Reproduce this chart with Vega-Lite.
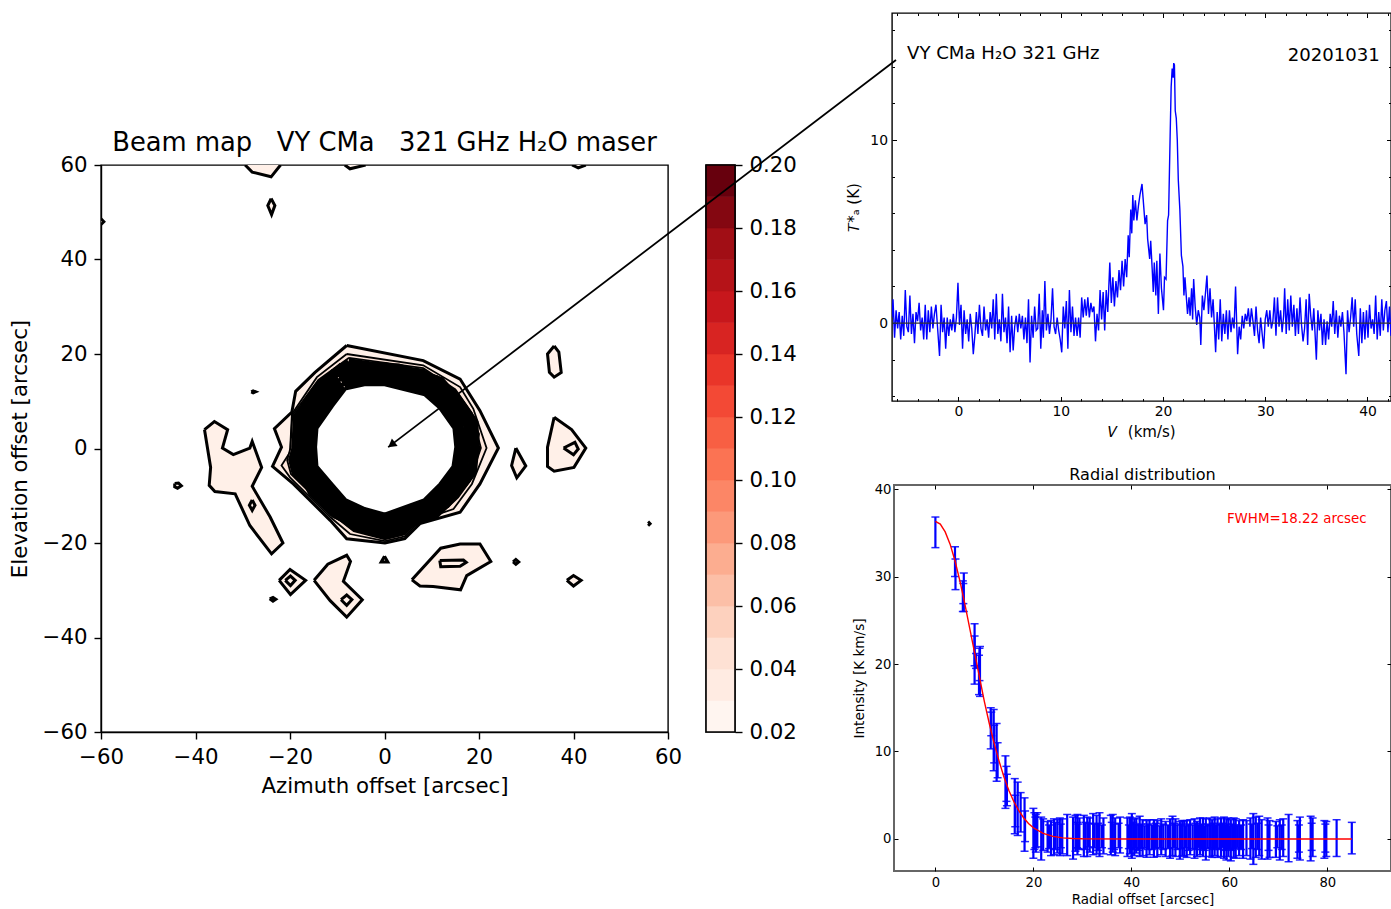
{
"$schema":"https://vega.github.io/schema/vega-lite/v6.json",
"padding":{"left":8,"top":11,"right":0,"bottom":0},
"background":"white",
"config":{"font":"DejaVu Sans","view":{"stroke":"black","strokeWidth":1.4},"axis":{"grid":false,"labelFont":"DejaVu Sans","titleFont":"DejaVu Sans","titleFontWeight":"normal","labelColor":"black","titleColor":"black","tickColor":"black","domainColor":"black"}},
"datasets":{
"blobs":[
{"c":"a","az":-38.1,"el":4},{"c":"a","az":-36,"el":5.7},{"c":"a","az":-33.2,"el":4},{"c":"a","az":-34.3,"el":0.1},{"c":"a","az":-32,"el":-1.3},{"c":"a","az":-28.5,"el":0.1},{"c":"a","az":-28,"el":1.5},{"c":"a","az":-26,"el":-4},{"c":"a","az":-28,"el":-8},{"c":"a","az":-24.2,"el":-14.5},{"c":"a","az":-21.5,"el":-20},{"c":"a","az":-23.9,"el":-22.3},{"c":"a","az":-28.5,"el":-16.3},{"c":"a","az":-31.6,"el":-9.6},{"c":"a","az":-35.9,"el":-9.1},{"c":"a","az":-37.1,"el":-7.8},{"c":"a","az":-36.8,"el":-4},{"c":"a","az":-38.1,"el":4},
{"c":"b","az":-28,"el":-10.9},{"c":"b","az":-27.4,"el":-12},{"c":"b","az":-28,"el":-13.1},{"c":"b","az":-28.6,"el":-12},{"c":"b","az":-28,"el":-10.9},
{"c":"c","az":-44.4,"el":-7.4},{"c":"c","az":-43.6,"el":-7.3},{"c":"c","az":-43,"el":-7.9},{"c":"c","az":-43.8,"el":-8.4},{"c":"c","az":-44.4,"el":-8.1},{"c":"c","az":-44.4,"el":-7.4},
{"c":"d","az":-22.3,"el":-27.9},{"c":"d","az":-20,"el":-25.6},{"c":"d","az":-16.7,"el":-27.9},{"c":"d","az":-19.9,"el":-30.9},{"c":"d","az":-22.3,"el":-27.9},
{"c":"e","az":-21,"el":-27.9},{"c":"e","az":-19.9,"el":-27},{"c":"e","az":-18.9,"el":-27.9},{"c":"e","az":-19.9,"el":-29},{"c":"e","az":-21,"el":-27.9},
{"c":"f","az":-24.3,"el":-31.8},{"c":"f","az":-23.6,"el":-31.5},{"c":"f","az":-23,"el":-31.9},{"c":"f","az":-23.6,"el":-32.3},{"c":"f","az":-24.3,"el":-31.8},
{"c":"g","az":-14.9,"el":-27.9},{"c":"g","az":-12,"el":-24.5},{"c":"g","az":-8,"el":-22.6},{"c":"g","az":-7.2,"el":-23.9},{"c":"g","az":-8.7,"el":-28.1},{"c":"g","az":-4.7,"el":-32},{"c":"g","az":-8,"el":-35.7},{"c":"g","az":-11.5,"el":-32.2},{"c":"g","az":-14.9,"el":-27.9},
{"c":"h","az":-9.2,"el":-32},{"c":"h","az":-8,"el":-31},{"c":"h","az":-6.9,"el":-32},{"c":"h","az":-8,"el":-33.2},{"c":"h","az":-9.2,"el":-32},
{"c":"i","az":35.9,"el":21.7},{"c":"i","az":36.9,"el":20.4},{"c":"i","az":37.4,"el":16.1},{"c":"i","az":35.9,"el":15.1},{"c":"i","az":34.9,"el":16.1},{"c":"i","az":34.5,"el":20},{"c":"i","az":35.9,"el":21.7},
{"c":"j","az":35.9,"el":6.6},{"c":"j","az":39.6,"el":4},{"c":"j","az":42.6,"el":0.1},{"c":"j","az":40.1,"el":-4},{"c":"j","az":35.9,"el":-4.8},{"c":"j","az":34.5,"el":-3.8},{"c":"j","az":34.5,"el":0.3},{"c":"j","az":35.9,"el":6.6},
{"c":"k","az":37.9,"el":0.1},{"c":"k","az":40.3,"el":1.3},{"c":"k","az":41,"el":-0.1},{"c":"k","az":40,"el":-1.3},{"c":"k","az":37.9,"el":0.1},
{"c":"l","az":27.8,"el":0.1},{"c":"l","az":29.9,"el":-3.7},{"c":"l","az":28,"el":-6.2},{"c":"l","az":26.9,"el":-3.6},{"c":"l","az":27.8,"el":0.1},
{"c":"m","az":5.8,"el":-27.8},{"c":"m","az":11.9,"el":-21.1},{"c":"m","az":16,"el":-20.2},{"c":"m","az":20.2,"el":-20.2},{"c":"m","az":22.5,"el":-23.9},{"c":"m","az":17.4,"el":-26.9},{"c":"m","az":16.1,"el":-29.9},{"c":"m","az":10.3,"el":-29.2},{"c":"m","az":7.5,"el":-29.1},{"c":"m","az":5.8,"el":-27.8},
{"c":"n","az":11.7,"el":-23.7},{"c":"n","az":16.7,"el":-23.6},{"c":"n","az":17.3,"el":-24.1},{"c":"n","az":16,"el":-24.9},{"c":"n","az":11.9,"el":-25},{"c":"n","az":11.7,"el":-23.7},
{"c":"o","az":27.2,"el":-24},{"c":"o","az":27.8,"el":-23.5},{"c":"o","az":28.4,"el":-24},{"c":"o","az":27.8,"el":-24.5},{"c":"o","az":27.2,"el":-24},
{"c":"p","az":38.6,"el":-27.9},{"c":"p","az":40,"el":-26.9},{"c":"p","az":41.6,"el":-27.9},{"c":"p","az":40,"el":-29.1},{"c":"p","az":38.6,"el":-27.9},
{"c":"q","az":-29.5,"el":60},{"c":"q","az":-28,"el":58.5},{"c":"q","az":-24,"el":57.5},{"c":"q","az":-22,"el":60},
{"c":"r","az":-24,"el":52.9},{"c":"r","az":-23.2,"el":51.4},{"c":"r","az":-23.9,"el":49.5},{"c":"r","az":-24.7,"el":51.4},{"c":"r","az":-24,"el":52.9},
{"c":"s","az":-8.4,"el":60},{"c":"s","az":-7.3,"el":59.2},{"c":"s","az":-4,"el":60},
{"c":"t","az":39.7,"el":60},{"c":"t","az":41,"el":59.4},{"c":"t","az":42.6,"el":60},
{"c":"u","az":-60,"el":48.6},{"c":"u","az":-59.4,"el":48},{"c":"u","az":-60,"el":47.4},
{"c":"v","az":55.8,"el":-15.9},{"c":"v","az":56,"el":-15.7},{"c":"v","az":56.2,"el":-15.9},{"c":"v","az":56,"el":-16.1},{"c":"v","az":55.8,"el":-15.9},
{"c":"w","az":-28.2,"el":12},{"c":"w","az":-27.8,"el":12.2},{"c":"w","az":-27.3,"el":12},{"c":"w","az":-27.8,"el":11.8},{"c":"w","az":-28.2,"el":12},
{"c":"x","az":0,"el":-22.8},{"c":"x","az":0.7,"el":-24},{"c":"x","az":-0.7,"el":-24},{"c":"x","az":0,"el":-22.8}
],
"outer":[
{"az":-8,"el":21.8},{"az":8.2,"el":18.6},{"az":16,"el":14.7},{"az":20.2,"el":8},{"az":24.1,"el":0.1},{"az":20.2,"el":-7.5},{"az":16,"el":-13.5},{"az":7.5,"el":-15.9},{"az":4.3,"el":-19.1},{"az":0.1,"el":-20},{"az":-8,"el":-19.1},{"az":-11.5,"el":-15.2},{"az":-19.3,"el":-7.5},{"az":-23.7,"el":-3.8},{"az":-21.8,"el":0.3},{"az":-23.3,"el":4.2},{"az":-19.6,"el":7.7},{"az":-18.8,"el":12.1},{"az":-14.7,"el":16.1},{"az":-8,"el":21.8}
],
"mid":[
{"c":"a","az":-8,"el":20},{"c":"a","az":8.2,"el":17.6},{"c":"a","az":16,"el":13},{"c":"a","az":18.8,"el":8.4},{"c":"a","az":21.6,"el":0.1},{"c":"a","az":18.5,"el":-7.5},{"c":"a","az":14.6,"el":-12.8},{"c":"a","az":7.5,"el":-15.2},{"c":"a","az":4.3,"el":-18.6},{"c":"a","az":0.1,"el":-19.6},{"c":"a","az":-7.3,"el":-18.1},{"c":"a","az":-11.5,"el":-14.5},{"c":"a","az":-20,"el":-6.1},{"c":"a","az":-21.8,"el":-3.6},{"c":"a","az":-20,"el":-0.8},{"c":"a","az":-19.6,"el":7.3},{"c":"a","az":-14.3,"el":15.1},{"c":"a","az":-8,"el":20},
{"c":"b","az":-7.5,"el":19.2},{"c":"b","az":8.2,"el":17},{"c":"b","az":15,"el":12.5},{"c":"b","az":18.5,"el":7.5},{"c":"b","az":20.4,"el":0.1},{"c":"b","az":18,"el":-7},{"c":"b","az":13.5,"el":-12.4},{"c":"b","az":7.5,"el":-14.8},{"c":"b","az":4.3,"el":-18.2},{"c":"b","az":0.1,"el":-19.2},{"c":"b","az":-6.5,"el":-17.5},{"c":"b","az":-11,"el":-14},{"c":"b","az":-19.8,"el":-5.4},{"c":"b","az":-20.6,"el":-2.5},{"c":"b","az":-19.9,"el":0.1},{"c":"b","az":-19.5,"el":7},{"c":"b","az":-14,"el":14.5},{"c":"b","az":-7.5,"el":19.2}
],
"band":[
{"c":"e","az":-7.6,"el":18.4},{"c":"e","az":8,"el":16.2},{"c":"e","az":14.5,"el":12},{"c":"e","az":17.8,"el":7.2},{"c":"e","az":19.6,"el":0.1},{"c":"e","az":17.4,"el":-6.7},{"c":"e","az":13,"el":-11.9},{"c":"e","az":7.3,"el":-14.2},{"c":"e","az":4.1,"el":-17.5},{"c":"e","az":0.1,"el":-18.5},{"c":"e","az":-6.3,"el":-16.9},{"c":"e","az":-10.7,"el":-13.5},{"c":"e","az":-19,"el":-5.2},{"c":"e","az":-19.7,"el":-2.4},{"c":"e","az":-19,"el":0.1},{"c":"e","az":-18.7,"el":6.8},{"c":"e","az":-13.5,"el":13.9},{"c":"e","az":-7.6,"el":18.4},
{"c":"f","az":-9,"el":17.6},{"c":"f","az":3,"el":17.3},{"c":"f","az":12,"el":14.5},{"c":"f","az":16.3,"el":9.5},{"c":"f","az":19.5,"el":3},{"c":"f","az":18.5,"el":-5.5},{"c":"f","az":14.5,"el":-10.5},{"c":"f","az":9,"el":-13.8},{"c":"f","az":2,"el":-17.8},{"c":"f","az":-6,"el":-16.5},{"c":"f","az":-11,"el":-13.8},{"c":"f","az":-15.5,"el":-9.5},{"c":"f","az":-18.7,"el":-3},{"c":"f","az":-18.8,"el":3},{"c":"f","az":-17,"el":9},{"c":"f","az":-14,"el":13.5},{"c":"f","az":-11.5,"el":15.5},{"c":"f","az":-9,"el":17.6},
{"c":"a","az":-10.6,"el":16.4},{"c":"a","az":-5.5,"el":17.6},{"c":"a","az":0.1,"el":17.6},{"c":"a","az":10.9,"el":14.9},{"c":"a","az":15.2,"el":11.2},{"c":"a","az":19.2,"el":5.6},{"c":"a","az":19.4,"el":0.4},{"c":"a","az":18.9,"el":-4.9},{"c":"a","az":15.2,"el":-10},{"c":"a","az":10.9,"el":-14.1},{"c":"a","az":0.1,"el":-18.1},{"c":"a","az":-5.5,"el":-16.5},{"c":"a","az":-10.6,"el":-14.1},{"c":"a","az":-14.4,"el":-10},{"c":"a","az":-18.6,"el":-4.9},{"c":"a","az":-19,"el":0.4},{"c":"a","az":-18.6,"el":5.6},{"c":"a","az":-14.4,"el":11.6},{"c":"a","az":-10.6,"el":16.4},
{"c":"b","az":-10.2,"el":15.7},{"c":"b","az":-5.2,"el":16.9},{"c":"b","az":0.1,"el":16.9},{"c":"b","az":10.5,"el":14.3},{"c":"b","az":14.6,"el":10.8},{"c":"b","az":18.4,"el":5.4},{"c":"b","az":18.8,"el":0.4},{"c":"b","az":18.2,"el":-4.7},{"c":"b","az":14.6,"el":-9.6},{"c":"b","az":10.5,"el":-13.6},{"c":"b","az":0.1,"el":-17.4},{"c":"b","az":-5.2,"el":-15.9},{"c":"b","az":-10.2,"el":-13.6},{"c":"b","az":-13.8,"el":-9.6},{"c":"b","az":-17.9,"el":-4.7},{"c":"b","az":-18.3,"el":0.4},{"c":"b","az":-17.9,"el":5.4},{"c":"b","az":-13.8,"el":11.1},{"c":"b","az":-10.2,"el":15.7},
{"c":"c","az":-9.6,"el":14.8},{"c":"c","az":-4.9,"el":15.8},{"c":"c","az":0.1,"el":15.8},{"c":"c","az":9.8,"el":13.4},{"c":"c","az":13.7,"el":10.1},{"c":"c","az":17.3,"el":5},{"c":"c","az":17.6,"el":0.4},{"c":"c","az":17,"el":-4.4},{"c":"c","az":13.7,"el":-9},{"c":"c","az":9.8,"el":-12.7},{"c":"c","az":0.1,"el":-16.3},{"c":"c","az":-4.9,"el":-14.9},{"c":"c","az":-9.6,"el":-12.7},{"c":"c","az":-13,"el":-9},{"c":"c","az":-16.8,"el":-4.4},{"c":"c","az":-17.2,"el":0.4},{"c":"c","az":-16.8,"el":5},{"c":"c","az":-13,"el":10.4},{"c":"c","az":-9.6,"el":14.8},
{"c":"d","az":-9,"el":13.8},{"c":"d","az":-4.6,"el":14.8},{"c":"d","az":0.1,"el":14.8},{"c":"d","az":9.2,"el":12.5},{"c":"d","az":12.8,"el":9.4},{"c":"d","az":16.1,"el":4.7},{"c":"d","az":16.5,"el":0.3},{"c":"d","az":15.9,"el":-4.1},{"c":"d","az":12.8,"el":-8.4},{"c":"d","az":9.2,"el":-11.9},{"c":"d","az":0.1,"el":-15.2},{"c":"d","az":-4.6,"el":-13.9},{"c":"d","az":-9,"el":-11.9},{"c":"d","az":-12.1,"el":-8.4},{"c":"d","az":-15.7,"el":-4.1},{"c":"d","az":-16,"el":0.3},{"c":"d","az":-15.7,"el":4.7},{"c":"d","az":-12.1,"el":9.7},{"c":"d","az":-9,"el":13.8}
],
"hole":[
{"az":-8.4,"el":12.9},{"az":-4.3,"el":13.8},{"az":0.1,"el":13.8},{"az":8.6,"el":11.7},{"az":11.9,"el":8.8},{"az":15,"el":4.4},{"az":15.4,"el":0.3},{"az":14.8,"el":-3.9},{"az":11.9,"el":-7.8},{"az":8.6,"el":-11.1},{"az":0.1,"el":-14.2},{"az":-4.3,"el":-13},{"az":-8.4,"el":-11.1},{"az":-11.3,"el":-7.8},{"az":-14.6,"el":-3.9},{"az":-14.9,"el":0.3},{"az":-14.6,"el":4.4},{"az":-11.3,"el":9.1},{"az":-8.4,"el":12.9}
],
"levels":[
{"lo":0.02,"hi":0.03,"m":0.025},{"lo":0.03,"hi":0.04,"m":0.035},{"lo":0.04,"hi":0.05,"m":0.045},{"lo":0.05,"hi":0.06,"m":0.055},{"lo":0.06,"hi":0.07,"m":0.065},{"lo":0.07,"hi":0.08,"m":0.075},{"lo":0.08,"hi":0.09,"m":0.085},{"lo":0.09,"hi":0.10,"m":0.095},{"lo":0.10,"hi":0.11,"m":0.105},{"lo":0.11,"hi":0.12,"m":0.115},{"lo":0.12,"hi":0.13,"m":0.125},{"lo":0.13,"hi":0.14,"m":0.135},{"lo":0.14,"hi":0.15,"m":0.145},{"lo":0.15,"hi":0.16,"m":0.155},{"lo":0.16,"hi":0.17,"m":0.165},{"lo":0.17,"hi":0.18,"m":0.175},{"lo":0.18,"hi":0.19,"m":0.185},{"lo":0.19,"hi":0.20,"m":0.195}
],
"spectrum":[
{"v":-6.5,"t":0.3},{"v":-6.4,"t":1.3},{"v":-6.25,"t":-0.8},{"v":-6.1,"t":0.7},{"v":-5.95,"t":-0.3},{"v":-5.8,"t":0.6},{"v":-5.65,"t":-0.9},{"v":-5.5,"t":0.4},{"v":-5.35,"t":-0.7},{"v":-5.2,"t":1.8},{"v":-5.05,"t":-0.2},{"v":-4.9,"t":-0.5},{"v":-4.75,"t":1.5},{"v":-4.6,"t":-0.6},{"v":-4.45,"t":0.5},{"v":-4.3,"t":-1.1},{"v":-4.15,"t":0.6},{"v":-4,"t":0.1},{"v":-3.85,"t":1.1},{"v":-3.7,"t":-0.4},{"v":-3.55,"t":0.3},{"v":-3.4,"t":-0.9},{"v":-3.25,"t":1},{"v":-3.1,"t":-0.9},{"v":-2.95,"t":0.7},{"v":-2.8,"t":-0.5},{"v":-2.65,"t":0.9},{"v":-2.5,"t":-0.3},{"v":-2.35,"t":0.5},{"v":-2.2,"t":1},{"v":-2.05,"t":-0.2},{"v":-1.85,"t":-1.8},{"v":-1.7,"t":1},{"v":-1.55,"t":-0.5},{"v":-1.4,"t":0.3},{"v":-1.25,"t":-1.4},{"v":-1.1,"t":0.3},{"v":-0.95,"t":-0.7},{"v":-0.8,"t":0.2},{"v":-0.65,"t":-0.4},{"v":-0.5,"t":0.5},{"v":-0.35,"t":-0.5},{"v":-0.2,"t":0.3},{"v":-0.05,"t":2.2},{"v":0.1,"t":-0.1},{"v":0.25,"t":1},{"v":0.4,"t":-1.4},{"v":0.55,"t":0.7},{"v":0.7,"t":-0.6},{"v":0.85,"t":0.2},{"v":1,"t":-1},{"v":1.15,"t":0.5},{"v":1.3,"t":-0.3},{"v":1.45,"t":-1.7},{"v":1.6,"t":-0.7},{"v":1.75,"t":0.6},{"v":1.9,"t":-0.6},{"v":2.05,"t":1},{"v":2.2,"t":-0.3},{"v":2.35,"t":-0.7},{"v":2.5,"t":0.9},{"v":2.65,"t":-0.4},{"v":2.8,"t":0.2},{"v":2.95,"t":-0.8},{"v":3.1,"t":0.6},{"v":3.25,"t":-0.3},{"v":3.4,"t":1.3},{"v":3.55,"t":-0.9},{"v":3.7,"t":1.6},{"v":3.85,"t":-0.6},{"v":4,"t":0.2},{"v":4.15,"t":-1},{"v":4.3,"t":1.6},{"v":4.45,"t":-0.5},{"v":4.6,"t":0.3},{"v":4.75,"t":-1.1},{"v":4.9,"t":0.9},{"v":5.05,"t":-1.6},{"v":5.2,"t":0.4},{"v":5.35,"t":-1.5},{"v":5.5,"t":-0.2},{"v":5.65,"t":0.4},{"v":5.8,"t":-0.5},{"v":5.95,"t":0.5},{"v":6.1,"t":-0.3},{"v":6.25,"t":0.4},{"v":6.4,"t":-0.9},{"v":6.55,"t":0.3},{"v":6.7,"t":-1.1},{"v":6.85,"t":1.3},{"v":7,"t":-2.15},{"v":7.15,"t":0.4},{"v":7.3,"t":-0.8},{"v":7.45,"t":0.9},{"v":7.6,"t":-0.4},{"v":7.75,"t":-0.3},{"v":7.9,"t":1.6},{"v":8.05,"t":-1.4},{"v":8.2,"t":0.7},{"v":8.3,"t":-0.8},{"v":8.45,"t":2.3},{"v":8.6,"t":-0.4},{"v":8.75,"t":0.5},{"v":8.9,"t":-0.6},{"v":9.05,"t":0.2},{"v":9.2,"t":1.9},{"v":9.35,"t":-0.2},{"v":9.5,"t":-0.6},{"v":9.65,"t":0.3},{"v":9.8,"t":-0.4},{"v":9.95,"t":-0.9},{"v":10.1,"t":-1.6},{"v":10.25,"t":0.9},{"v":10.4,"t":-0.3},{"v":10.55,"t":1.2},{"v":10.7,"t":-1.4},{"v":10.85,"t":1.8},{"v":11,"t":-0.5},{"v":11.15,"t":0.9},{"v":11.3,"t":-0.7},{"v":11.45,"t":0.3},{"v":11.6,"t":-0.7},{"v":11.75,"t":0.3},{"v":11.9,"t":-0.8},{"v":12.05,"t":1.4},{"v":12.2,"t":0.3},{"v":12.35,"t":1.3},{"v":12.5,"t":0.4},{"v":12.65,"t":1.4},{"v":12.8,"t":0.3},{"v":12.95,"t":1.1},{"v":13.1,"t":0.6},{"v":13.25,"t":0.9},{"v":13.4,"t":-1},{"v":13.55,"t":0.5},{"v":13.7,"t":-0.4},{"v":13.85,"t":1.8},{"v":14,"t":0.2},{"v":14.15,"t":1.7},{"v":14.3,"t":-0.4},{"v":14.45,"t":1.8},{"v":14.6,"t":0.6},{"v":14.8,"t":3.3},{"v":14.95,"t":1.1},{"v":15.1,"t":2.5},{"v":15.25,"t":0.9},{"v":15.4,"t":2.3},{"v":15.55,"t":1.4},{"v":15.7,"t":2.9},{"v":15.85,"t":1.8},{"v":16,"t":3.4},{"v":16.15,"t":2},{"v":16.3,"t":3.5},{"v":16.45,"t":2.5},{"v":16.6,"t":4.8},{"v":16.7,"t":3.6},{"v":16.85,"t":6.2},{"v":16.95,"t":4.9},{"v":17.05,"t":7},{"v":17.15,"t":5.6},{"v":17.3,"t":6.7},{"v":17.45,"t":5.6},{"v":17.6,"t":6.4},{"v":17.75,"t":7},{"v":17.95,"t":7.6},{"v":18.1,"t":6.5},{"v":18.25,"t":5.4},{"v":18.4,"t":5.9},{"v":18.5,"t":4.6},{"v":18.7,"t":3.5},{"v":18.8,"t":4.5},{"v":18.95,"t":2.9},{"v":19.05,"t":1.7},{"v":19.15,"t":3.3},{"v":19.3,"t":1.5},{"v":19.4,"t":3.4},{"v":19.55,"t":0.5},{"v":19.7,"t":3.8},{"v":19.85,"t":1.9},{"v":20.05,"t":0.7},{"v":20.15,"t":2.5},{"v":20.3,"t":2.4},{"v":20.45,"t":5.6},{"v":20.55,"t":5.9},{"v":20.7,"t":10.2},{"v":20.8,"t":12.9},{"v":20.9,"t":13.9},{"v":21,"t":13.4},{"v":21.05,"t":14.2},{"v":21.12,"t":14.1},{"v":21.2,"t":11.6},{"v":21.3,"t":11.2},{"v":21.4,"t":10},{"v":21.5,"t":7.8},{"v":21.65,"t":6.2},{"v":21.8,"t":3.7},{"v":21.95,"t":3.1},{"v":22.05,"t":1.5},{"v":22.15,"t":2.5},{"v":22.3,"t":1.3},{"v":22.4,"t":0.5},{"v":22.55,"t":1.4},{"v":22.65,"t":0.4},{"v":22.8,"t":1.9},{"v":22.9,"t":0.2},{"v":23,"t":2.4},{"v":23.15,"t":0.9},{"v":23.3,"t":-0.1},{"v":23.45,"t":0.7},{"v":23.6,"t":0.3},{"v":23.7,"t":-1.2},{"v":23.85,"t":1.5},{"v":24,"t":0.7},{"v":24.15,"t":1.6},{"v":24.3,"t":2.6},{"v":24.45,"t":0.5},{"v":24.6,"t":1.9},{"v":24.75,"t":0.3},{"v":24.9,"t":1.3},{"v":25.05,"t":-0.4},{"v":25.15,"t":-1.6},{"v":25.3,"t":0.6},{"v":25.45,"t":-0.9},{"v":25.6,"t":1.3},{"v":25.75,"t":-1},{"v":25.9,"t":0.5},{"v":26.05,"t":-0.6},{"v":26.2,"t":0.7},{"v":26.35,"t":-0.9},{"v":26.5,"t":0.7},{"v":26.65,"t":-0.5},{"v":26.8,"t":0.3},{"v":26.95,"t":-0.3},{"v":27.1,"t":2},{"v":27.3,"t":-1.7},{"v":27.45,"t":-0.2},{"v":27.6,"t":-0.9},{"v":27.75,"t":0.4},{"v":27.9,"t":-0.3},{"v":28.05,"t":0.5},{"v":28.2,"t":0.1},{"v":28.35,"t":0.8},{"v":28.5,"t":-0.2},{"v":28.65,"t":0.8},{"v":28.8,"t":0.1},{"v":28.95,"t":-0.7},{"v":29.1,"t":0.9},{"v":29.25,"t":-0.4},{"v":29.4,"t":-1.1},{"v":29.55,"t":0.3},{"v":29.7,"t":-0.6},{"v":29.85,"t":-1.4},{"v":30,"t":0.2},{"v":30.15,"t":0.7},{"v":30.3,"t":-0.2},{"v":30.45,"t":0.7},{"v":30.6,"t":-0.3},{"v":30.75,"t":0.1},{"v":30.9,"t":1.4},{"v":31.05,"t":-0.7},{"v":31.2,"t":1.4},{"v":31.35,"t":-0.2},{"v":31.5,"t":0.7},{"v":31.65,"t":-0.5},{"v":31.8,"t":0.4},{"v":31.9,"t":1.9},{"v":32.05,"t":-0.6},{"v":32.2,"t":1.3},{"v":32.35,"t":-0.4},{"v":32.5,"t":1.5},{"v":32.65,"t":-0.2},{"v":32.8,"t":1},{"v":32.95,"t":-0.7},{"v":33.1,"t":0.8},{"v":33.25,"t":-0.6},{"v":33.4,"t":1.4},{"v":33.55,"t":-0.1},{"v":33.7,"t":-1},{"v":33.85,"t":-0.3},{"v":34,"t":1.3},{"v":34.15,"t":-1.2},{"v":34.3,"t":1.6},{"v":34.45,"t":0.4},{"v":34.6,"t":-0.4},{"v":34.75,"t":0.8},{"v":35,"t":-2},{"v":35.15,"t":0.7},{"v":35.3,"t":-0.4},{"v":35.45,"t":0.5},{"v":35.6,"t":-1.2},{"v":35.75,"t":0.2},{"v":35.9,"t":-1.2},{"v":36.05,"t":0.1},{"v":36.2,"t":-0.9},{"v":36.35,"t":0.5},{"v":36.5,"t":-0.2},{"v":36.65,"t":1.2},{"v":36.8,"t":-0.6},{"v":36.95,"t":0.7},{"v":37.1,"t":-0.8},{"v":37.25,"t":0.4},{"v":37.4,"t":-0.2},{"v":37.55,"t":0.6},{"v":37.7,"t":-0.5},{"v":37.9,"t":-2.8},{"v":38.05,"t":0.7},{"v":38.2,"t":-0.5},{"v":38.35,"t":0.3},{"v":38.5,"t":1.4},{"v":38.65,"t":-0.2},{"v":38.8,"t":1.3},{"v":38.95,"t":-0.6},{"v":39.15,"t":-1.8},{"v":39.3,"t":0.8},{"v":39.45,"t":-1.1},{"v":39.6,"t":0.6},{"v":39.75,"t":-0.9},{"v":39.9,"t":0.7},{"v":40.05,"t":-0.8},{"v":40.2,"t":1},{"v":40.35,"t":-0.3},{"v":40.5,"t":0.2},{"v":40.65,"t":-0.6},{"v":40.8,"t":1.5},{"v":40.95,"t":-0.9},{"v":41.1,"t":0.6},{"v":41.25,"t":-0.7},{"v":41.4,"t":1.3},{"v":41.55,"t":-0.4},{"v":41.7,"t":0.7},{"v":41.85,"t":1.2},{"v":42,"t":-0.5},{"v":42.15,"t":0.9},{"v":42.3,"t":-0.7}
],
"labels":[{"v":-5.03,"t":14.7,"s":"VY CMa H₂O 321 GHz"}],
"arrow":[{"v":-55.77,"t":-6.78},{"v":-6.11,"t":14.37}],
"bars":[
{"r":0,"lo":33.3,"hi":36.8},{"r":4,"lo":30,"hi":33.4},{"r":4.1,"lo":28.5,"hi":32},{"r":5.6,"lo":26,"hi":29.5},{"r":5.8,"lo":26,"hi":30.4},{"r":5.7,"lo":26.9,"hi":29.2},{"r":8,"lo":17.7,"hi":24.6},{"r":8,"lo":19.8,"hi":23.2},{"r":8.3,"lo":19.5,"hi":21.2},{"r":8.9,"lo":16.5,"hi":21},{"r":9.1,"lo":16.3,"hi":22},{"r":9,"lo":18.1,"hi":21.8},{"r":11.3,"lo":10.3,"hi":15},{"r":11.4,"lo":11.8,"hi":14.5},{"r":11.9,"lo":7.8,"hi":14.8},{"r":12,"lo":8.7,"hi":13},{"r":12.5,"lo":6.6,"hi":13.2},{"r":12.7,"lo":7,"hi":11},{"r":14.3,"lo":3.5,"hi":9.5},{"r":14.5,"lo":4.3,"hi":8.3},{"r":14.6,"lo":3.8,"hi":7.4},{"r":16.2,"lo":0.6,"hi":6.9},{"r":16.3,"lo":1.4,"hi":5},{"r":16.8,"lo":0.4,"hi":6.5},{"r":17.4,"lo":0.8,"hi":5.3},{"r":18.2,"lo":-1.4,"hi":4.7},{"r":18.3,"lo":-0.3,"hi":3.2},
{"r":20,"lo":-2.2,"hi":3.5},{"r":20.2,"lo":-1.2,"hi":3},{"r":20.5,"lo":-1.5,"hi":2.8},{"r":20.8,"lo":-0.9,"hi":3},{"r":21.6,"lo":-2.4,"hi":2.5},{"r":22,"lo":-1.3,"hi":2.3},{"r":22.9,"lo":-1.5,"hi":2},{"r":23.6,"lo":-1.9,"hi":2.1},{"r":24.2,"lo":-1.8,"hi":2.3},{"r":24.9,"lo":-1.6,"hi":2.2},{"r":25.4,"lo":-1.9,"hi":2.4},{"r":25.9,"lo":-1.7,"hi":2.3},{"r":26.9,"lo":-1.9,"hi":2.8},{"r":28.1,"lo":-2.3,"hi":2.5},{"r":28.6,"lo":-1.4,"hi":2.7},{"r":29,"lo":-1.8,"hi":2.8},{"r":29.4,"lo":-1.2,"hi":2.4},{"r":30.3,"lo":-2,"hi":2.7},{"r":31,"lo":-2,"hi":2.5},{"r":31.5,"lo":-1.5,"hi":2.4},{"r":32.2,"lo":-1.8,"hi":2.9},{"r":32.9,"lo":-1.7,"hi":2.7},{"r":33.5,"lo":-2,"hi":3},{"r":34.3,"lo":-1.7,"hi":2.4},{"r":35.8,"lo":-1.8,"hi":2.7},{"r":36.2,"lo":-1.5,"hi":2.8},{"r":36.7,"lo":-1.9,"hi":2.4},{"r":37.7,"lo":-1.6,"hi":2.5},{"r":39.2,"lo":-2,"hi":2.4},{"r":39.7,"lo":-1.7,"hi":2.5},{"r":40.1,"lo":-2.2,"hi":2.9},{"r":40.6,"lo":-1.9,"hi":2.3},{"r":41,"lo":-1.6,"hi":2.4},{"r":41.7,"lo":-2,"hi":2.6},{"r":42.3,"lo":-1.9,"hi":2.2},{"r":43.1,"lo":-2.1,"hi":2.1},{"r":43.7,"lo":-1.8,"hi":2.2},{"r":44.6,"lo":-2.1,"hi":2.2},{"r":45.3,"lo":-2,"hi":2.1},{"r":46.1,"lo":-1.8,"hi":2.3},{"r":47,"lo":-2,"hi":2},{"r":47.9,"lo":-2.2,"hi":2.3},{"r":48.4,"lo":-1.9,"hi":2.6},{"r":49,"lo":-2,"hi":2.3},{"r":49.9,"lo":-2.3,"hi":2},{"r":50.4,"lo":-1.9,"hi":2.1},{"r":50.8,"lo":-2,"hi":2.1},{"r":51.3,"lo":-2.1,"hi":2.1},{"r":52,"lo":-1.8,"hi":2.2},{"r":52.9,"lo":-2.2,"hi":2.3},{"r":53.4,"lo":-2,"hi":2},{"r":54,"lo":-1.8,"hi":2.4},{"r":54.6,"lo":-2,"hi":2.4},{"r":55.2,"lo":-2.4,"hi":2.3},{"r":56,"lo":-2,"hi":2.4},{"r":56.5,"lo":-2.1,"hi":2.2},{"r":57,"lo":-1.9,"hi":2.5},{"r":57.6,"lo":-2.1,"hi":2.3},{"r":58.3,"lo":-2,"hi":2.4},{"r":58.9,"lo":-2.2,"hi":2.5},{"r":59.4,"lo":-2.4,"hi":2.3},{"r":59.8,"lo":-2,"hi":2.4},{"r":60.3,"lo":-2.5,"hi":2.2},{"r":60.9,"lo":-2.1,"hi":2.4},{"r":61.3,"lo":-2.2,"hi":2.3},{"r":62,"lo":-1.9,"hi":2.1},{"r":62.8,"lo":-2.2,"hi":2.2},{"r":63.5,"lo":-1.9,"hi":2.1},{"r":64.3,"lo":-2.3,"hi":2.4},{"r":64.9,"lo":-2.9,"hi":2.9},{"r":65.4,"lo":-2.1,"hi":2.5},{"r":66.1,"lo":-1.9,"hi":2.6},{"r":66.6,"lo":-2.3,"hi":2.2},{"r":67.8,"lo":-2.3,"hi":2.4},{"r":68.2,"lo":-2.1,"hi":2.1},{"r":69.5,"lo":-2.1,"hi":2},{"r":70.3,"lo":-2.4,"hi":2.2},{"r":71,"lo":-2,"hi":2.3},{"r":72.1,"lo":-2.6,"hi":2.8},{"r":73.9,"lo":-2.2,"hi":2.1},{"r":74.4,"lo":-2.4,"hi":2.5},{"r":76.6,"lo":-2.5,"hi":2.6},{"r":77,"lo":-2,"hi":2.4},{"r":79.4,"lo":-2.2,"hi":2.1},{"r":79.8,"lo":-2,"hi":2},{"r":81.9,"lo":-2,"hi":2.2},{"r":85,"lo":-1.7,"hi":1.9},
{"r":20.4,"lo":-1,"hi":2.5},{"r":23.2,"lo":-1.1,"hi":1.6},{"r":24.5,"lo":-1.2,"hi":1.9},{"r":25.6,"lo":-1,"hi":1.7},{"r":28.9,"lo":-1,"hi":1.9},{"r":29.2,"lo":-1.1,"hi":1.7},{"r":30.6,"lo":-1.2,"hi":1.9},{"r":31.2,"lo":-0.9,"hi":1.8},{"r":32.5,"lo":-1,"hi":1.7},{"r":33.2,"lo":-1.3,"hi":1.8},{"r":34,"lo":-1,"hi":1.6},{"r":36,"lo":-1.1,"hi":1.9},{"r":36.5,"lo":-1.2,"hi":1.7},{"r":37.4,"lo":-1,"hi":1.8},{"r":39.5,"lo":-1.1,"hi":1.6},{"r":40.4,"lo":-1.2,"hi":1.9},{"r":40.8,"lo":-1,"hi":1.7},{"r":41.4,"lo":-1.3,"hi":1.6},{"r":42,"lo":-1.1,"hi":1.7},{"r":42.7,"lo":-1,"hi":1.5},{"r":43.4,"lo":-1.2,"hi":1.7},{"r":44.2,"lo":-1.2,"hi":1.6},{"r":45,"lo":-1.1,"hi":1.8},{"r":45.8,"lo":-1,"hi":1.5},{"r":46.5,"lo":-1.2,"hi":1.7},{"r":47.5,"lo":-1.1,"hi":1.6},{"r":48.7,"lo":-1,"hi":1.8},{"r":49.4,"lo":-1.2,"hi":1.6},{"r":50.1,"lo":-1.1,"hi":1.7},{"r":51,"lo":-1,"hi":1.5},{"r":51.7,"lo":-1.3,"hi":1.7},{"r":52.5,"lo":-1.1,"hi":1.6},{"r":53.1,"lo":-1.2,"hi":1.8},{"r":53.7,"lo":-1,"hi":1.6},{"r":54.3,"lo":-1.2,"hi":1.7},{"r":55,"lo":-1.3,"hi":1.5},{"r":55.6,"lo":-1.1,"hi":1.7},{"r":56.2,"lo":-1,"hi":1.6},{"r":56.8,"lo":-1.2,"hi":1.8},{"r":57.3,"lo":-1.1,"hi":1.6},{"r":58,"lo":-1.2,"hi":1.7},{"r":58.6,"lo":-1,"hi":1.8},{"r":59.1,"lo":-1.3,"hi":1.6},{"r":59.6,"lo":-1.1,"hi":1.7},{"r":60.1,"lo":-1.2,"hi":1.5},{"r":60.6,"lo":-1.3,"hi":1.7},{"r":61.1,"lo":-1.1,"hi":1.6},{"r":61.6,"lo":-1,"hi":1.5},{"r":62.4,"lo":-1.2,"hi":1.6},{"r":64.6,"lo":-1.1,"hi":1.7},{"r":65.8,"lo":-1.2,"hi":1.8},{"r":68,"lo":-1.3,"hi":1.6},{"r":69.8,"lo":-1,"hi":1.5},{"r":70.7,"lo":-1.2,"hi":1.6},{"r":74.2,"lo":-1.5,"hi":1.6},{"r":76.8,"lo":-1.3,"hi":1.8},{"r":79.6,"lo":-1.5,"hi":1.7}
],
"fit":[
{"r":0,"y":36.3},{"r":1,"y":36},{"r":2,"y":35.1},{"r":3,"y":33.7},{"r":4,"y":31.8},{"r":5,"y":29.5},{"r":6,"y":26.9},{"r":7,"y":24.1},{"r":8,"y":21.3},{"r":9,"y":18.5},{"r":10,"y":15.7},{"r":11,"y":13.2},{"r":12,"y":10.9},{"r":13,"y":8.9},{"r":14,"y":7.07},{"r":15,"y":5.55},{"r":16,"y":4.28},{"r":17,"y":3.26},{"r":18,"y":2.43},{"r":19,"y":1.78},{"r":20,"y":1.28},{"r":22,"y":0.64},{"r":24,"y":0.3},{"r":26,"y":0.13},{"r":28,"y":0.05},{"r":30,"y":0.02},{"r":40,"y":0},{"r":85,"y":0}
]
},
"hconcat":[
{"vconcat":[
{"width":10,"height":152,"view":{"stroke":null},"data":{"values":[]},"mark":"point"},
{"hconcat":[
{"width":567,"height":567,
"title":{"text":"Beam map\u00a0\u00a0\u00a0VY CMa\u00a0\u00a0\u00a0321 GHz H₂O maser","fontSize":25.8,"fontWeight":"normal","font":"DejaVu Sans","color":"black","offset":-3},
"encoding":{
"x":{"field":"az","type":"quantitative","scale":{"domain":[-60,60],"nice":false},"axis":{"title":"Azimuth offset [arcsec]","values":[-60,-40,-20,0,20,40,60],"labelFontSize":21.3,"titleFontSize":21.3,"tickSize":7,"tickWidth":1.4,"domainWidth":1.4,"labelPadding":7,"titlePadding":8,"labelFlush":false,"labelOverlap":false}},
"y":{"field":"el","type":"quantitative","scale":{"domain":[-60,60],"nice":false},"axis":{"title":"Elevation offset [arcsec]","values":[-60,-40,-20,0,20,40,60],"labelFontSize":21.3,"titleFontSize":21.3,"tickSize":7,"tickWidth":1.4,"domainWidth":1.4,"labelPadding":7,"titlePadding":12,"labelFlush":false,"labelOverlap":false}},
"detail":{"field":"c"}
},
"layer":[
{"data":{"name":"blobs"},"mark":{"type":"line","order":null,"clip":true,"fill":"#fff0e8","stroke":"black","strokeWidth":3}},
{"data":{"name":"outer"},"mark":{"type":"line","order":null,"fill":"#fff0e8","stroke":"black","strokeWidth":3}},
{"data":{"name":"mid"},"mark":{"type":"line","order":null,"fill":"#fee6da","stroke":"black","strokeWidth":1.8}},
{"data":{"name":"band"},"mark":{"type":"line","order":null,"stroke":"black","strokeWidth":6.5}},
{"data":{"name":"hole"},"mark":{"type":"line","order":null,"fill":"white","stroke":"black","strokeWidth":6}}
]},
{"width":29,"height":567,
"encoding":{"y":{"field":"lo","type":"quantitative","scale":{"domain":[0.02,0.2],"nice":false,"zero":false},"axis":{"orient":"right","title":null,"values":[0.02,0.04,0.06,0.08,0.1,0.12,0.14,0.16,0.18,0.2],"format":".2f","labelFontSize":21.3,"tickSize":7,"tickWidth":1.4,"domain":false,"labelPadding":7,"labelFlush":false,"labelOverlap":false}},"y2":{"field":"hi"}},
"layer":[
{"data":{"name":"levels"},"mark":{"type":"rect","strokeWidth":0.6},
"encoding":{
"color":{"field":"m","type":"quantitative","legend":null,"scale":{"type":"linear","domain":[0.025,0.04625,0.0675,0.08875,0.11,0.13125,0.1525,0.17375,0.195],"range":["#fff5f0","#fee0d2","#fcbba1","#fc9272","#fb6a4a","#ef3b2c","#cb181d","#a50f15","#67000d"],"interpolate":"rgb"}},
"stroke":{"field":"m","type":"quantitative","legend":null,"scale":{"type":"linear","domain":[0.025,0.04625,0.0675,0.08875,0.11,0.13125,0.1525,0.17375,0.195],"range":["#fff5f0","#fee0d2","#fcbba1","#fc9272","#fb6a4a","#ef3b2c","#cb181d","#a50f15","#67000d"],"interpolate":"rgb"}}
}},
{"data":{"values":[{"lo":0.02,"hi":0.2}]},"mark":{"type":"rect","fillOpacity":0,"stroke":"black","strokeWidth":1.6}}
]}
],"spacing":38,"bounds":"flush"}
],"spacing":0,"bounds":"flush"},
{"vconcat":[
{"width":499,"height":388,
"encoding":{
"x":{"field":"v","type":"quantitative","scale":{"domain":[-6.5,42.3],"nice":false,"zero":false}},
"y":{"field":"t","type":"quantitative","scale":{"domain":[-4.26,16.94],"nice":false,"zero":false}}
},
"layer":[
{"data":{"name":"spectrum"},"mark":{"type":"line","order":null,"color":"#0000ff","strokeWidth":1.4,"clip":true},
"encoding":{
"x":{"field":"v","type":"quantitative","axis":{"orient":"bottom","title":"𝑉\u00a0\u00a0(km/s)","values":[-6,-4,-2,0,2,4,6,8,10,12,14,16,18,20,22,24,26,28,30,32,34,36,38,40,42],"labelExpr":"datum.value % 10 == 0 ? datum.label : ''","tickSize":{"condition":{"test":"datum.value % 10 == 0","value":-4.5},"value":-2.5},"labelFontSize":13.9,"titleFontSize":15,"labelPadding":8,"titlePadding":4,"domain":false,"labelFlush":false,"labelOverlap":false}},
"y":{"field":"t","type":"quantitative","axis":{"orient":"left","title":"𝑇*ₐ (K)","values":[-4,-2,0,2,4,6,8,10,12,14,16],"labelExpr":"datum.value % 10 == 0 ? datum.label : ''","tickSize":{"condition":{"test":"datum.value % 10 == 0","value":-4.5},"value":-2.5},"labelFontSize":13.9,"titleFontSize":15,"labelPadding":9,"titlePadding":8,"domain":false,"labelFlush":false,"labelOverlap":false}}
}},
{"data":{"values":[{"t":0}]},"mark":{"type":"rule","color":"#333333","strokeWidth":1.2},"encoding":{"y":{"field":"t","type":"quantitative","axis":null},"x":null}},
{"data":{"values":[{"v":0,"t":0}]},"mark":{"type":"point","opacity":0},
"encoding":{
"x":{"field":"v","type":"quantitative","axis":{"orient":"top","title":null,"values":[-6,-4,-2,0,2,4,6,8,10,12,14,16,18,20,22,24,26,28,30,32,34,36,38,40,42],"labels":false,"tickSize":{"condition":{"test":"datum.value % 10 == 0","value":-4.5},"value":-2.5},"domain":false}},
"y":{"field":"t","type":"quantitative","axis":{"orient":"right","title":null,"values":[-4,-2,0,2,4,6,8,10,12,14,16],"labels":false,"tickSize":{"condition":{"test":"datum.value % 10 == 0","value":-4.5},"value":-2.5},"domain":false}}
}},
{"data":{"name":"labels"},"mark":{"type":"text","align":"left","fontSize":18.1,"font":"DejaVu Sans","color":"black"},"encoding":{"text":{"field":"s"},"x":{"field":"v","type":"quantitative","axis":null},"y":{"field":"t","type":"quantitative","axis":null}}},
{"data":{"values":[{"v":41.2,"t":14.59,"s":"20201031"}]},"mark":{"type":"text","align":"right","fontSize":18.1,"font":"DejaVu Sans","color":"black"},"encoding":{"text":{"field":"s"},"x":{"field":"v","type":"quantitative","axis":null},"y":{"field":"t","type":"quantitative","axis":null}}},
{"data":{"name":"arrow"},"mark":{"type":"line","order":null,"color":"black","strokeWidth":1.8,"clip":false},"encoding":{"x":{"field":"v","type":"quantitative","axis":null},"y":{"field":"t","type":"quantitative","axis":null}}},
{"data":{"values":[{"v":-55.34,"t":-6.61}]},"mark":{"type":"point","shape":"triangle","filled":true,"color":"black","opacity":1,"size":90,"angle":232.7,"clip":false},"encoding":{"x":{"field":"v","type":"quantitative","axis":null},"y":{"field":"t","type":"quantitative","axis":null}}}
],
"resolve":{"axis":{"x":"independent","y":"independent"}}
},
{"hconcat":[
{"width":1,"height":386,"view":{"stroke":null},"data":{"values":[]},"mark":"point"},
{"width":497,"height":386,"view":{"stroke":"#666666","strokeWidth":2},
"title":{"text":"Radial distribution","fontSize":16.1,"fontWeight":"normal","font":"DejaVu Sans","color":"black","offset":-1},
"data":{"name":"bars"},
"encoding":{"x":{"field":"r","type":"quantitative","scale":{"domain":[-8.45,93],"nice":false,"zero":false}}},
"layer":[
{"mark":{"type":"rule","color":"#0000ff","strokeWidth":2.2},
"encoding":{
"x":{"field":"r","type":"quantitative","axis":{"orient":"bottom","title":"Radial offset [arcsec]","values":[0,20,40,60,80],"tickSize":-4,"labelFontSize":13.2,"titleFontSize":13.5,"labelPadding":9,"titlePadding":4,"domain":false,"labelFlush":false,"labelOverlap":false}},
"y":{"field":"lo","type":"quantitative","scale":{"domain":[-3.66,40.46],"nice":false,"zero":false},"axis":{"orient":"left","title":"Intensity [K km/s]","values":[0,10,20,30,40],"tickSize":-4,"labelFontSize":13.2,"titleFontSize":13.6,"labelPadding":7,"titlePadding":8,"domain":false,"labelFlush":false,"labelOverlap":false}},
"y2":{"field":"hi"}
}},
{"mark":{"type":"tick","orient":"horizontal","color":"#0000ff","size":8,"thickness":1.5,"opacity":0.85},"encoding":{"y":{"field":"lo","type":"quantitative","axis":null},"x":{"field":"r","type":"quantitative","axis":null}}},
{"mark":{"type":"tick","orient":"horizontal","color":"#0000ff","size":8,"thickness":1.5,"opacity":0.85},"encoding":{"y":{"field":"hi","type":"quantitative","axis":null},"x":{"field":"r","type":"quantitative","axis":null}}},
{"data":{"name":"fit"},"mark":{"type":"line","order":null,"color":"#ff0000","strokeWidth":1.4},"encoding":{"x":{"field":"r","type":"quantitative","axis":null},"y":{"field":"y","type":"quantitative","axis":null}}},
{"data":{"values":[{"r":59.5,"y":36.6,"s":"FWHM=18.22 arcsec"}]},"mark":{"type":"text","align":"left","fontSize":13.4,"font":"DejaVu Sans","color":"#ff0000"},"encoding":{"text":{"field":"s"},"x":{"field":"r","type":"quantitative","axis":null},"y":{"field":"y","type":"quantitative","axis":null}}},
{"data":{"values":[{"r":0,"y":0}]},"mark":{"type":"point","opacity":0},
"encoding":{
"x":{"field":"r","type":"quantitative","axis":{"orient":"top","title":null,"values":[0,20,40,60,80],"labels":false,"tickSize":-4,"domain":false}},
"y":{"field":"y","type":"quantitative","axis":{"orient":"right","title":null,"values":[0,10,20,30,40],"labels":false,"tickSize":-4,"domain":false}}
}}
],
"resolve":{"axis":{"x":"independent","y":"independent"}}
}
],"spacing":1,"bounds":"flush"}
],"spacing":84,"bounds":"flush"}
],"spacing":791,"bounds":"flush"
}
